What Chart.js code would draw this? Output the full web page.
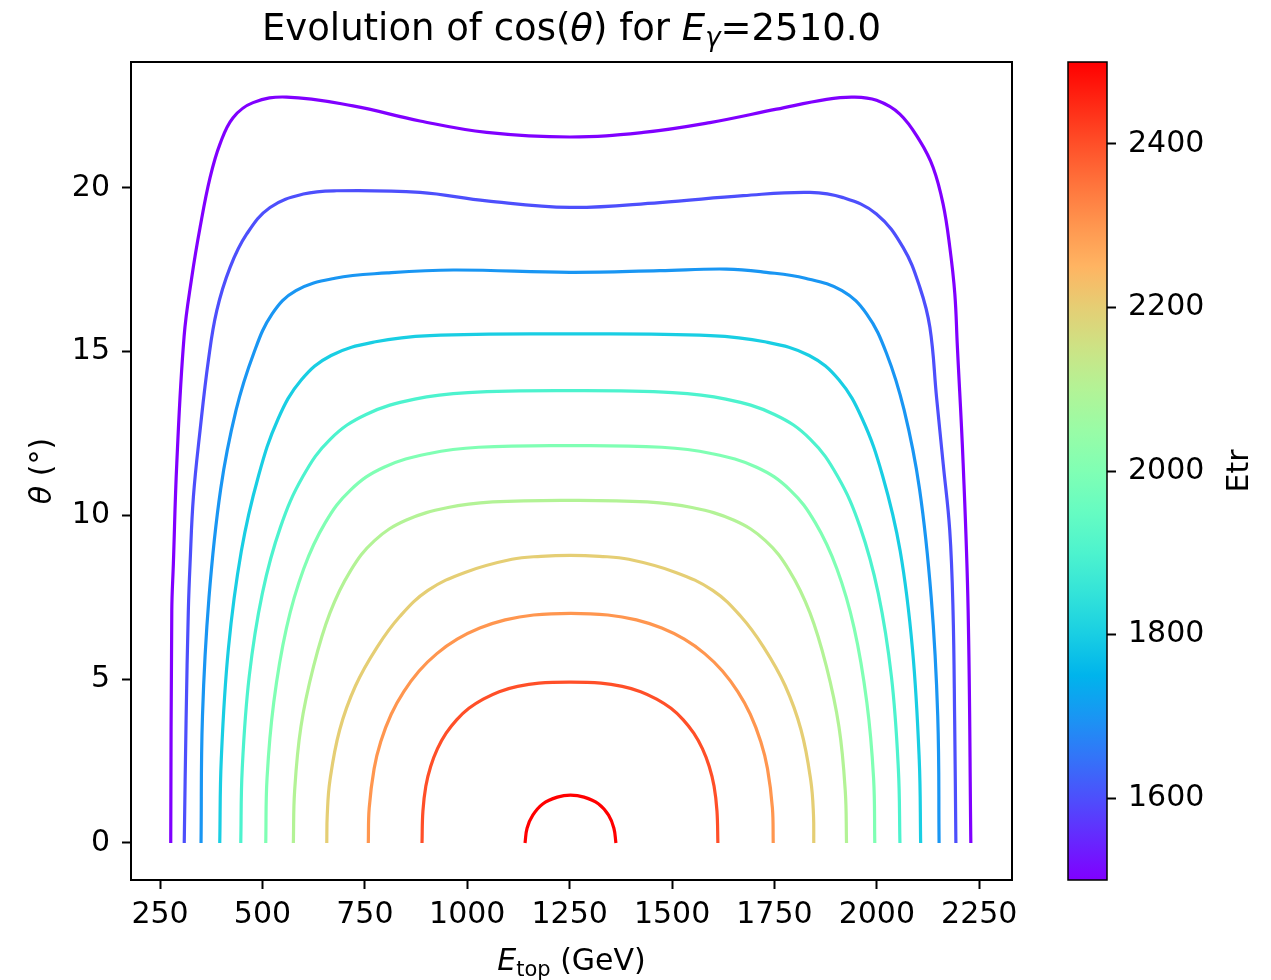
<!DOCTYPE html>
<html>
<head>
<meta charset="utf-8">
<title>Evolution of cos(theta)</title>
<script src="https://cdn.jsdelivr.net/npm/chart.js@4.4.0/dist/chart.umd.min.js"></script>
<style>
	html, body { margin: 0; padding: 0; background: #fff; }
	#wrap { width: 1271px; height: 980px; }
</style>
</head>
<body>
<div id="wrap"><canvas id="chart" width="1271" height="980"></canvas></div>
<script>
// Data: [E_top (GeV), theta (deg)] per Etr level

const etrLevels = [1500, 1600, 1700, 1800, 1900, 2000, 2100, 2200, 2300, 2400, 2500];

const curve1500 = [[276, 0], [278.6, 7.1], [282.5, 8.54], [290.8, 11.59], [308.6, 15.46], [327.4, 17.27], [347.6, 18.79], [372, 20.31], [396.4, 21.34], [428.2, 22.14], [477, 22.6], [559.2, 22.77], [721, 22.5], [884.6, 22.04], [1047.4, 21.69], [1250.7, 21.55], [1429.8, 21.69], [1592.4, 21.99], [1755.2, 22.4], [1877.3, 22.7], [1942.2, 22.77], [1999.3, 22.67], [2056.2, 22.25], [2105, 21.43], [2137.4, 20.62], [2161.8, 19.5], [2178.2, 18.18], [2190.4, 16.76], [2196.5, 15.18], [2210.7, 11.59], [2222.9, 7.1], [2229.5, 0]];
const curve1600 = [[309, 0], [313.5, 3.75], [319, 7.1], [323.2, 8.53], [331.3, 10.56], [347.6, 12.59], [367.9, 14.73], [388.4, 16.25], [420.9, 17.57], [461.6, 18.59], [518.5, 19.4], [599.8, 19.81], [681.3, 19.91], [884.6, 19.86], [1047.4, 19.6], [1250.4, 19.4], [1470, 19.55], [1673.7, 19.76], [1836.5, 19.86], [1917.8, 19.7], [1999, 19.2], [2064, 18.18], [2105, 16.96], [2129.5, 15.74], [2145.8, 13.6], [2162, 11.57], [2178, 9.54], [2186, 7.1], [2190, 3.75], [2193, 0]];
const curve1700 = [[350, 0], [353.5, 3.87], [369.4, 7.49], [397.9, 10.8], [435.5, 13.21], [478.7, 14.95], [523.6, 16.15], [581.7, 16.86], [676.9, 17.24], [804.3, 17.4], [966, 17.49], [1251, 17.42], [1470, 17.47], [1633, 17.52], [1730, 17.42], [1825.3, 17.24], [1915, 16.86], [1975, 16.15], [2023.5, 14.95], [2066.7, 13.21], [2104.3, 10.8], [2132.8, 7.49], [2148.7, 3.87], [2152, 0]];
const curve1800 = [[395.7, 0], [399.4, 2.55], [416.7, 5.92], [448.4, 8.91], [490.4, 11.21], [538.3, 12.95], [594.6, 14.13], [667.6, 14.88], [776, 15.3], [908.8, 15.49], [1251.2, 15.54], [1593.6, 15.49], [1726.4, 15.3], [1834.8, 14.88], [1907.8, 14.13], [1964.2, 12.95], [2014, 11.21], [2057, 8.91], [2087, 5.92], [2103.5, 2.55], [2107, 0]];
const curve1900 = [[447, 0], [450.6, 2.27], [467.5, 5.07], [499.7, 7.62], [544.1, 9.65], [599.3, 11.2], [665.9, 12.33], [753, 13.08], [871.9, 13.55], [1002, 13.75], [1251.6, 13.81], [1501.2, 13.75], [1631.2, 13.55], [1750, 13.08], [1837.2, 12.33], [1903.8, 11.2], [1959, 9.65], [2003.5, 7.62], [2035.7, 5.07], [2052.5, 2.27], [2056.4, 0]];
const curve2000 = [[508, 0], [511.2, 1.99], [527.5, 4.29], [558.5, 6.56], [600.7, 8.37], [653, 9.77], [715.5, 10.78], [796.7, 11.47], [907.8, 11.89], [1028, 12.08], [1251.6, 12.13], [1475, 12.08], [1595.4, 11.89], [1706.4, 11.47], [1787.7, 10.78], [1850, 9.77], [1902.4, 8.37], [1944.6, 6.56], [1975.6, 4.29], [1992, 1.99], [1995, 0]];
const curve2100 = [[575.4, 0], [578.5, 1.59], [593.9, 3.55], [624.7, 5.39], [665, 7.03], [714.5, 8.3], [773.6, 9.23], [850, 9.85], [953, 10.24], [1062, 10.41], [1250.3, 10.46], [1439.4, 10.41], [1548.5, 10.24], [1651.5, 9.85], [1727.9, 9.23], [1787, 8.3], [1836.5, 7.03], [1876.8, 5.39], [1907.5, 3.55], [1922.9, 1.59], [1926, 0]];
const curve2200 = [[657, 0], [658.2, 0.87], [664.7, 1.91], [688.4, 3.45], [727.2, 4.8], [780, 5.98], [835.8, 6.92], [904, 7.71], [994.4, 8.26], [1109, 8.66], [1180, 8.75], [1251.7, 8.78], [1323, 8.75], [1394.3, 8.66], [1509, 8.26], [1599.3, 7.71], [1667.6, 6.92], [1723.5, 5.98], [1776.2, 4.8], [1815, 3.45], [1838.7, 1.91], [1845.3, 0.87], [1846, 0]];
const curve2300 = [[758.4, 0], [760.6, 1.07], [772.6, 2.27], [788.7, 3.09], [814.3, 3.93], [845, 4.62], [882.4, 5.25], [925.8, 5.78], [975.4, 6.22], [1030.6, 6.56], [1092.5, 6.81], [1162, 6.96], [1252.7, 7.01], [1343.4, 6.96], [1413, 6.81], [1474.8, 6.56], [1530, 6.22], [1579.6, 5.78], [1623, 5.25], [1660.4, 4.62], [1691, 3.93], [1716.7, 3.09], [1733, 2.27], [1745, 1.07], [1747, 0]];
const curve2400 = [[889.5, 0], [891.7, 0.97], [898.8, 1.73], [910.8, 2.34], [927.3, 2.88], [948.4, 3.35], [974, 3.76], [1004, 4.11], [1039, 4.39], [1078, 4.62], [1123, 4.78], [1175, 4.88], [1250.7, 4.91], [1326.4, 4.88], [1378.4, 4.78], [1423.4, 4.62], [1462.4, 4.39], [1497.4, 4.11], [1527.4, 3.76], [1553, 3.35], [1574.1, 2.88], [1590.6, 2.34], [1602.6, 1.73], [1609.7, 0.97], [1611.9, 0]];
const curve2500 = [[1141, 0], [1146, 0.45], [1160, 0.85], [1185, 1.2], [1220, 1.4], [1252, 1.46], [1285, 1.4], [1320, 1.2], [1345, 0.85], [1358, 0.45], [1363, 0]];

const curves = [curve1500, curve1600, curve1700, curve1800, curve1900, curve2000, curve2100, curve2200, curve2300, curve2400, curve2500];

const xTicks = [250, 500, 750, 1000, 1250, 1500, 1750, 2000, 2250];
const yTicks = [0, 5, 10, 15, 20];
const cbTicks = [1600, 1800, 2000, 2200, 2400];
const cbRange = [1500, 2500];

const FONT = "'DejaVu Sans', sans-serif";
const CB_WIDTH = 39;

// matplotlib "rainbow" colormap
const rainbow = (t) => {
	const r = Math.min(1, Math.abs(2 * t - 0.5));
	const g = Math.max(0, Math.sin(Math.PI * t));
	const b = Math.max(0, Math.cos((Math.PI * t) / 2));
	return `rgb(${Math.round(r * 255)}, ${Math.round(g * 255)}, ${Math.round(b * 255)})`;
};
const levelColor = (e) => rainbow((e - cbRange[0]) / (cbRange[1] - cbRange[0]));

const datasets = curves.map((pts, i) => ({
	label: `Etr=${etrLevels[i]}`,
	data: pts.map(([x, y]) => ({ x, y })),
	borderColor: levelColor(etrLevels[i]),
	borderWidth: 3.2,
	pointRadius: 0,
	fill: false,
	tension: 0.4,
	yAxisID: "y",
}));

// text made of runs, for italic letters and subscripts
const drawRuns = (ctx, runs, cx, y) => {
	let width = 0;
	runs.forEach((r) => {
		ctx.font = r.font;
		width += ctx.measureText(r.text).width;
	});
	let x = cx - width / 2;
	runs.forEach((r) => {
		ctx.font = r.font;
		ctx.fillText(r.text, x, y + (r.dy || 0));
		x += ctx.measureText(r.text).width;
	});
};

const decor = {
	id: "decor",
	afterDraw(chart) {
		const { ctx, chartArea: a } = chart;
		const cb = chart.scales.cb;
		ctx.save();

		// axes frame
		ctx.strokeStyle = "#000";
		ctx.lineWidth = 2;
		ctx.strokeRect(a.left, a.top, a.right - a.left, a.bottom - a.top);

		// colorbar
		const x0 = cb.left - CB_WIDTH;
		const grad = ctx.createLinearGradient(0, cb.bottom, 0, cb.top);
		for (let i = 0; i <= 20; i++) grad.addColorStop(i / 20, rainbow(i / 20));
		ctx.fillStyle = grad;
		ctx.fillRect(x0, cb.top, CB_WIDTH, cb.bottom - cb.top);
		ctx.lineWidth = 1.5;
		ctx.strokeRect(x0, cb.top, CB_WIDTH, cb.bottom - cb.top);

		// texts
		ctx.fillStyle = "#000";
		ctx.textAlign = "left";
		ctx.textBaseline = "alphabetic";
		const midX = (a.left + a.right) / 2;
		const midY = (a.top + a.bottom) / 2;

		drawRuns(ctx, [
			{ text: "Evolution of cos(", font: `37px ${FONT}` },
			{ text: "θ", font: `italic 37px ${FONT}` },
			{ text: ") for ", font: `37px ${FONT}` },
			{ text: "E", font: `italic 37px ${FONT}` },
			{ text: "γ", font: `italic 26px ${FONT}`, dy: 6 },
			{ text: "=2510.0", font: `37px ${FONT}` },
		], midX, 40);

		drawRuns(ctx, [
			{ text: "E", font: `italic 30px ${FONT}` },
			{ text: "top", font: `21px ${FONT}`, dy: 6 },
			{ text: " (GeV)", font: `30px ${FONT}` },
		], midX, 970);

		ctx.save();
		ctx.translate(51, midY);
		ctx.rotate(-Math.PI / 2);
		drawRuns(ctx, [
			{ text: "θ", font: `italic 30px ${FONT}` },
			{ text: " (°)", font: `30px ${FONT}` },
		], 0, 0);
		ctx.restore();

		ctx.save();
		ctx.translate(1248, (cb.top + cb.bottom) / 2);
		ctx.rotate(-Math.PI / 2);
		drawRuns(ctx, [{ text: "Etr", font: `30px ${FONT}` }], 0, 0);
		ctx.restore();

		ctx.restore();
	},
};

const tickFont = { family: FONT, size: 30 };
const tickGrid = { drawOnChartArea: false, tickLength: 9, tickWidth: 2, color: "#000" };

new Chart(document.getElementById("chart").getContext("2d"), {
	type: "line",
	data: { datasets },
	options: {
		responsive: false,
		animation: false,
		devicePixelRatio: 1,
		layout: { padding: { top: 62, left: 0, right: 0, bottom: 0 } },
		plugins: { legend: { display: false }, tooltip: { enabled: false } },
		scales: {
			x: {
				type: "linear",
				min: 179,
				max: 2330,
				afterBuildTicks: (s) => { s.ticks = xTicks.map((v) => ({ value: v })); },
				afterFit: (s) => { s.height = 100; },
				grid: tickGrid,
				border: { display: false },
				ticks: { font: tickFont, color: "#000", padding: 8, maxRotation: 0, autoSkip: false, callback: (v) => String(v) },
			},
			y: {
				type: "linear",
				position: "left",
				min: -1.13,
				max: 23.84,
				afterBuildTicks: (s) => { s.ticks = yTicks.map((v) => ({ value: v })); },
				afterFit: (s) => { s.width = 131; },
				grid: tickGrid,
				border: { display: false },
				ticks: { font: tickFont, color: "#000", padding: 12, autoSkip: false, callback: (v) => String(v) },
			},
			gap: {
				type: "linear",
				position: "right",
				axis: "y",
				weight: 1,
				afterFit: (s) => { s.width = 56 + CB_WIDTH; },
				grid: { display: false },
				border: { display: false },
				ticks: { display: false },
			},
			cb: {
				type: "linear",
				position: "right",
				axis: "y",
				weight: 2,
				min: cbRange[0],
				max: cbRange[1],
				afterBuildTicks: (s) => { s.ticks = cbTicks.map((v) => ({ value: v })); },
				afterFit: (s) => { s.width = 164; },
				grid: tickGrid,
				border: { display: false },
				ticks: { font: tickFont, color: "#000", padding: 12, autoSkip: false, callback: (v) => String(v) },
			},
		},
	},
	plugins: [decor],
});
</script>
</body>
</html>
